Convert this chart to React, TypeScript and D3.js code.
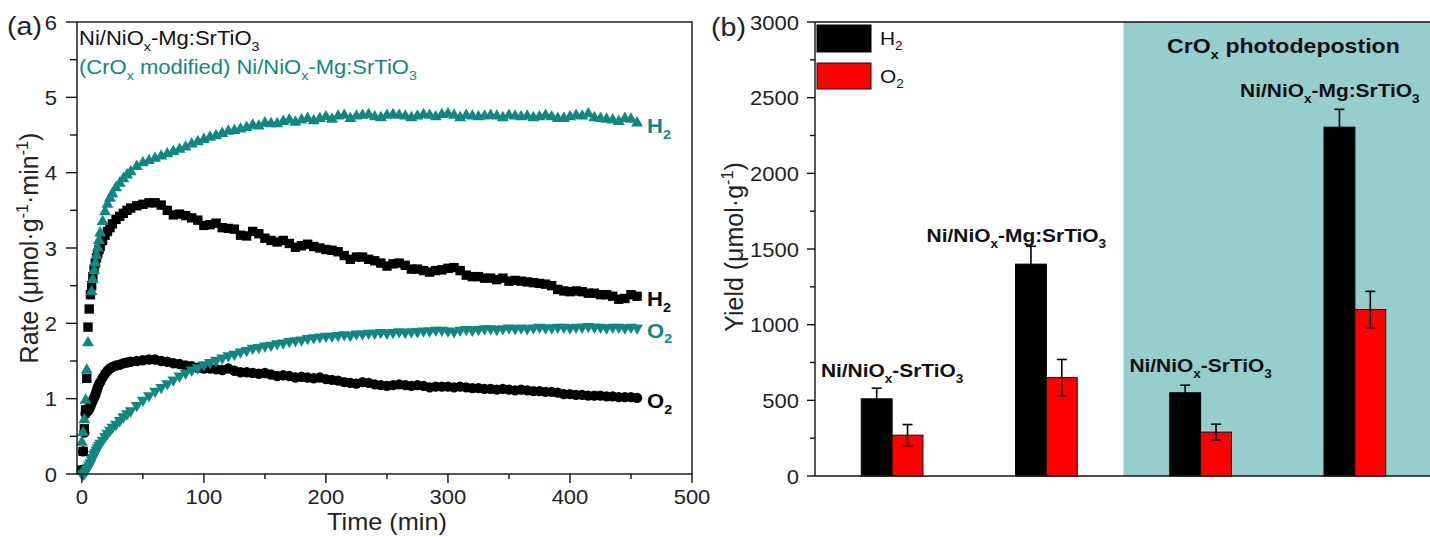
import React from "react";
import * as d3 from "d3";

// ---------- Panel (a): rate vs time ----------
const TIME = [
  0, 1, 2, 3, 4, 5, 6, 7, 8, 9, 10, 11, 12, 13, 14, 15, 17, 19, 21, 23, 25, 28, 31, 34, 37, 40,
  45, 50, 55, 60, 65, 70, 75, 80, 85, 90,
  95, 100, 105, 110, 115, 120, 125, 130, 135, 140,
  145, 150, 155, 160, 165, 170, 175, 180, 185, 190,
  195, 200, 205, 210, 215, 220, 225, 230, 235, 240,
  245, 250, 255, 260, 265, 270, 275, 280, 285, 290,
  295, 300, 305, 310, 315, 320, 325, 330, 335, 340,
  345, 350, 355, 360, 365, 370, 375, 380, 385, 390,
  395, 400, 405, 410, 415, 420, 425, 430, 435, 440,
  445, 450, 455,
];

const H2_BARE: (number | null)[] = [
  0.05, 0.3, 0.6, 0.85, 1.27, 1.95, 2.19, 2.38, 2.5, 2.62, 2.72, 2.8, 2.87, 2.93, 2.98, 3.02, 3.1, 3.17, 3.22, 3.27, 3.32, 3.38, 3.42, 3.46, 3.5, 3.53,
  3.56, 3.58, 3.6, 3.6, 3.57, 3.5, 3.44, 3.45, 3.43, 3.4,
  3.37, 3.3, 3.31, 3.33, 3.27, 3.26, 3.25, 3.17, 3.16, 3.22,
  3.19, 3.13, 3.1, 3.08, 3.1, 3.06, 3.01, 3.03, 3.05, 3.02,
  3.0, 2.98, 2.97, 2.95, 2.9, 2.85, 2.88, 2.88, 2.85, 2.83,
  2.8, 2.76, 2.79, 2.8, 2.77, 2.72, 2.72, 2.7, 2.68, 2.7,
  2.71, 2.73, 2.74, 2.7, 2.64, 2.62, 2.62, 2.6, 2.6, 2.58,
  2.6, 2.56, 2.57, 2.56, 2.55, 2.54, 2.53, 2.52, 2.5, 2.45,
  2.43, 2.42, 2.43, 2.42, 2.4, 2.4, 2.38, 2.38, 2.36, 2.32,
  2.33, 2.38, 2.36,
];

const O2_BARE: (number | null)[] = [
  0.05, 0.3, 0.55, 0.8, 0.86, 0.84, 0.86, 0.9, 0.94, 0.98, 1.01, 1.05, 1.1, 1.15, 1.19, 1.22, 1.28, 1.33, 1.37, 1.4, 1.42, 1.44, 1.45, 1.47, 1.48, 1.49,
  1.5, 1.51, 1.52, 1.52, 1.5, 1.49, 1.47, 1.46, 1.44, 1.43,
  1.41, 1.4, 1.4, 1.39, 1.38, 1.4, 1.37, 1.35, 1.35, 1.34,
  1.33, 1.34, 1.32, 1.3, 1.31, 1.3, 1.28, 1.29, 1.28, 1.27,
  1.28, 1.26, 1.25, 1.24, 1.22, 1.21, 1.2, 1.22, 1.21, 1.19,
  1.18, 1.17, 1.18, 1.19, 1.18, 1.17, 1.18, 1.17, 1.15, 1.16,
  1.16, 1.16, 1.15, 1.16, 1.15, 1.14, 1.14, 1.13, 1.13, 1.12,
  1.13, 1.12, 1.11, 1.12, 1.11, 1.1, 1.1, 1.09, 1.09, 1.08,
  1.06, 1.06, 1.05, 1.05, 1.04, 1.04, 1.04, 1.03, 1.03, 1.02,
  1.02, 1.02, 1.01,
];

const H2_CROX: (number | null)[] = [
  0.42, 0.55, 0.72, 0.98, 1.38, 1.74, null, null, 2.42, 2.58, 2.7, 2.8, 2.9, 3.0, 3.1, 3.2, 3.35, 3.48, 3.58, 3.66, 3.72, 3.8, 3.86, 3.92, 3.97, 4.01,
  4.08, 4.13, 4.16, 4.19, 4.22, 4.25, 4.28, 4.31, 4.34, 4.38,
  4.41, 4.44, 4.47, 4.49, 4.52, 4.55, 4.56, 4.58, 4.6, 4.63,
  4.62, 4.66, 4.65, 4.65, 4.68, 4.7, 4.67, 4.7, 4.72, 4.69,
  4.72, 4.74, 4.71, 4.75, 4.76, 4.72, 4.75, 4.76, 4.77, 4.74,
  4.73, 4.76, 4.77, 4.76, 4.75, 4.73, 4.75, 4.77, 4.76, 4.74,
  4.77, 4.78, 4.76, 4.73, 4.76, 4.75, 4.74, 4.75, 4.76, 4.75,
  4.73, 4.76, 4.75, 4.74, 4.75, 4.73, 4.74, 4.76, 4.74, 4.72,
  4.72, 4.74, 4.76, 4.75, 4.78, 4.73, 4.72, 4.71, 4.7, 4.68,
  4.72, 4.71, 4.66,
];

const O2_CROX: (number | null)[] = [
  0.0, 0.0, 0.01, 0.03, 0.06, 0.09, 0.12, 0.15, 0.19, 0.22, 0.26, 0.29, 0.32, 0.35, 0.38, 0.41, 0.45, 0.5, 0.54, 0.58, 0.62, 0.66, 0.71, 0.76, 0.8, 0.84,
  0.91, 0.98, 1.04, 1.1, 1.15, 1.2, 1.25, 1.3, 1.34, 1.38,
  1.41, 1.45, 1.48, 1.51, 1.54, 1.57, 1.59, 1.62, 1.64, 1.67,
  1.68, 1.7, 1.71, 1.73, 1.74, 1.76, 1.77, 1.78, 1.8, 1.81,
  1.82, 1.83, 1.83, 1.84, 1.85, 1.84, 1.86, 1.86, 1.87, 1.87,
  1.88, 1.87, 1.88, 1.89, 1.88, 1.89, 1.89, 1.9, 1.9, 1.91,
  1.91, 1.9, 1.89, 1.91, 1.92, 1.91, 1.92, 1.93, 1.93, 1.92,
  1.93, 1.94, 1.93, 1.94, 1.93, 1.94, 1.95, 1.94, 1.94, 1.95,
  1.95, 1.94, 1.95, 1.95, 1.96, 1.95, 1.95, 1.94, 1.95, 1.95,
  1.94, 1.95, 1.94,
];

const RATE_TICKS = [0, 1, 2, 3, 4, 5, 6];
const RATE_MINOR = [0.5, 1.5, 2.5, 3.5, 4.5, 5.5];
const TIME_TICKS = [0, 100, 200, 300, 400, 500];
const TIME_MINOR = [50, 150, 250, 350, 450];

// ---------- Panel (b): yields ----------
const SAMPLE_GROUPS = [1, 2, 3, 4];
const SAMPLE_MG = [false, true, false, true];
const H2_YIELD = [510, 1400, 550, 2305];
const H2_ERR = [70, 118, 50, 118];
const O2_YIELD = [270, 650, 290, 1100];
const O2_ERR = [70, 120, 52, 120];
const YIELD_TICKS = [0, 500, 1000, 1500, 2000, 2500, 3000];
const YIELD_MINOR = [250, 750, 1250, 1750, 2250, 2750];

// ---------- styling / layout ----------
const SX = 1.1;
const FONT = "'Liberation Sans', Arial, Helvetica, sans-serif";
const TEAL = "#0f8782";
const BAND = "#96cdcd";
const RED = "#ff0000";
const AX = "#111";

const LABEL_SHIFT = [0, -30, 0, -25];
const LABEL_GAP = [11, 4, 13, 12];

type Seg = [string, ("sub" | "sup")?];

function Rich(props: {
  x: number; y: number; segs: Seg[]; size: number; fill?: string; weight?: number;
  anchor?: "start" | "middle" | "end"; rot?: boolean; sx?: number;
}) {
  const { x, y, segs, size, fill = "#000", weight = 400, anchor = "start", rot = false, sx = SX } = props;
  const tr = `translate(${x},${y}) scale(${sx},1)` + (rot ? " rotate(-90)" : "");
  let cur = 0;
  const small = size * 0.65;
  return (
    <text transform={tr} fontSize={size} fontFamily={FONT} fontWeight={weight} fill={fill} textAnchor={anchor}>
      {segs.map(([t, k], i) => {
        const target = k === "sub" ? size * 0.28 : k === "sup" ? -size * 0.4 : 0;
        const dy = target - cur;
        cur = target;
        return (
          <tspan key={i} dy={dy} fontSize={k ? small : size}>
            {t}
          </tspan>
        );
      })}
    </text>
  );
}

const symSquare = d3.symbol(d3.symbolSquare, 88)()!;
const symCircle = d3.symbol(d3.symbolCircle, 85)()!;
const symTri = d3.symbol(d3.symbolTriangle, 62)()!;

export default function App() {
  // panel (a) scales
  const xA = d3.scaleLinear().domain([-4, 500]).range([77, 692]);
  const yA = d3.scaleLinear().domain([0, 6]).range([474, 22]);
  // panel (b) scales
  const xB = d3.scaleLinear().domain([0.5, 4.5]).range([815, 1432]);
  const yB = d3.scaleLinear().domain([0, 3000]).range([476, 22]);
  const barW = xB(1.2) - xB(1);

  const series = [
    { vals: H2_BARE, sym: symSquare, fill: "#000", rot: 0 },
    { vals: O2_BARE, sym: symCircle, fill: "#000", rot: 0 },
    { vals: H2_CROX, sym: symTri, fill: TEAL, rot: 0 },
    { vals: O2_CROX, sym: symTri, fill: TEAL, rot: 180 },
  ];

  const lastT = TIME[TIME.length - 1];
  const last = (a: (number | null)[]) => a[a.length - 1] as number;
  const endX = xA(lastT) + 10;

  const bareLabel: Seg[] = [["Ni/NiO"], ["x", "sub"], ["-SrTiO"], ["3", "sub"]];
  const mgLabel: Seg[] = [["Ni/NiO"], ["x", "sub"], ["-Mg:SrTiO"], ["3", "sub"]];

  return (
    <svg
      width={1430}
      height={537}
      style={{ position: "absolute", left: 0, top: 0, background: "#fff" }}
    >
      <rect x={0} y={0} width={1430} height={537} fill="#fff" />

      {/* ================= Panel (a) ================= */}
      <g>
        {series.map((s, si) => (
          <g key={si} fill={s.fill}>
            {TIME.map((t, i) =>
              s.vals[i] == null ? null : (
                <path
                  key={i}
                  d={s.sym}
                  transform={`translate(${xA(t)},${yA(s.vals[i] as number)}) rotate(${s.rot})`}
                />
              )
            )}
          </g>
        ))}

        {/* frame */}
        <rect x={xA(-4)} y={yA(6)} width={xA(500) - xA(-4)} height={yA(0) - yA(6)} fill="none" stroke={AX} strokeWidth={1.4} />

        {/* y ticks */}
        {RATE_TICKS.map((v) => (
          <g key={v}>
            <line x1={xA(-4) - 11} x2={xA(-4)} y1={yA(v)} y2={yA(v)} stroke={AX} strokeWidth={1.4} />
            <Rich x={57} y={yA(v) + 7.5} segs={[[String(v)]]} size={20} anchor="end" fill="#222" />
          </g>
        ))}
        {RATE_MINOR.map((v) => (
          <line key={v} x1={xA(-4) - 7} x2={xA(-4)} y1={yA(v)} y2={yA(v)} stroke={AX} strokeWidth={1.4} />
        ))}
        {/* x ticks */}
        {TIME_TICKS.map((t) => (
          <g key={t}>
            <line x1={xA(t)} x2={xA(t)} y1={yA(0)} y2={yA(0) + 9} stroke={AX} strokeWidth={1.4} />
            <Rich x={xA(t)} y={504} segs={[[String(t)]]} size={20} anchor="middle" fill="#222" />
          </g>
        ))}
        {TIME_MINOR.map((t) => (
          <line key={t} x1={xA(t)} x2={xA(t)} y1={yA(0)} y2={yA(0) + 5} stroke={AX} strokeWidth={1.4} />
        ))}

        {/* axis titles */}
        <Rich x={(xA(0) + xA(500)) / 2} y={530} segs={[["Time (min)"]]} size={23} anchor="middle" fill="#222" />
        <Rich
          x={38}
          y={248}
          rot
          sx={1}
          size={25}
          anchor="middle"
          fill="#222"
          segs={[["Rate (μmol·g"], ["-1", "sup"], ["·min"], ["-1", "sup"], [")"]]}
        />

        {/* panel tag */}
        <Rich x={7} y={35} segs={[["(a)"]]} size={26} fill="#222" />

        {/* annotations */}
        <Rich x={79} y={45} segs={mgLabel} size={20} fill="#111" />
        <Rich
          x={79}
          y={74}
          segs={[["(CrO"], ["x", "sub"], [" modified) Ni/NiO"], ["x", "sub"], ["-Mg:SrTiO"], ["3", "sub"]]}
          size={20}
          fill={TEAL}
        />

        {/* end labels */}
        <Rich x={endX} y={yA(last(H2_CROX)) + 10} segs={[["H"], ["2", "sub"]]} size={20} weight={700} fill={TEAL} />
        <Rich x={endX} y={yA(last(H2_BARE)) + 10} segs={[["H"], ["2", "sub"]]} size={20} weight={700} fill="#000" />
        <Rich x={endX} y={yA(last(O2_CROX)) + 10} segs={[["O"], ["2", "sub"]]} size={20} weight={700} fill={TEAL} />
        <Rich x={endX} y={yA(last(O2_BARE)) + 10} segs={[["O"], ["2", "sub"]]} size={20} weight={700} fill="#000" />
      </g>

      {/* ================= Panel (b) ================= */}
      <g>
        <rect x={xB(2.5)} y={yB(3000)} width={1430 - xB(2.5)} height={yB(0) - yB(3000)} fill={BAND} />

        {SAMPLE_GROUPS.map((g, i) => {
          const h2Top = yB(H2_YIELD[i]);
          const o2Top = yB(O2_YIELD[i]);
          const cx = xB(g);
          return (
            <g key={g}>
              <rect x={cx - barW} y={h2Top} width={barW} height={yB(0) - h2Top} fill="#000" stroke="#000" strokeWidth={1} />
              <rect x={cx} y={o2Top} width={barW} height={yB(0) - o2Top} fill={RED} stroke="#111" strokeWidth={1} />
              {/* error bars */}
              {[
                { c: cx - barW / 2, v: H2_YIELD[i], e: H2_ERR[i] },
                { c: cx + barW / 2, v: O2_YIELD[i], e: O2_ERR[i] },
              ].map((eb, k) => (
                <g key={k} stroke="#000" strokeWidth={1.6}>
                  <line x1={eb.c} x2={eb.c} y1={yB(eb.v + eb.e)} y2={yB(eb.v - eb.e)} />
                  <line x1={eb.c - 5} x2={eb.c + 5} y1={yB(eb.v + eb.e)} y2={yB(eb.v + eb.e)} />
                  <line x1={eb.c - 5} x2={eb.c + 5} y1={yB(eb.v - eb.e)} y2={yB(eb.v - eb.e)} />
                </g>
              ))}
              <Rich
                x={cx + LABEL_SHIFT[i]}
                y={yB(H2_YIELD[i] + H2_ERR[i]) - LABEL_GAP[i]}
                segs={SAMPLE_MG[i] ? mgLabel : bareLabel}
                size={19}
                weight={700}
                anchor="middle"
                fill="#111"
              />
            </g>
          );
        })}

        {/* axes */}
        <line x1={xB(0.5)} x2={xB(0.5)} y1={yB(3000)} y2={yB(0)} stroke={AX} strokeWidth={1.4} />
        <line x1={xB(0.5)} x2={1430} y1={yB(0)} y2={yB(0)} stroke={AX} strokeWidth={1.4} />
        <line x1={xB(0.5)} x2={1430} y1={yB(3000)} y2={yB(3000)} stroke={AX} strokeWidth={1.4} />
        {YIELD_TICKS.map((v) => (
          <g key={v}>
            <line x1={xB(0.5) - 8} x2={xB(0.5)} y1={yB(v)} y2={yB(v)} stroke={AX} strokeWidth={1.4} />
            <Rich x={799} y={yB(v) + 7.5} segs={[[String(v)]]} size={20} anchor="end" fill="#222" />
          </g>
        ))}
        {YIELD_MINOR.map((v) => (
          <line key={v} x1={xB(0.5) - 5} x2={xB(0.5)} y1={yB(v)} y2={yB(v)} stroke={AX} strokeWidth={1.4} />
        ))}

        <Rich
          x={743}
          y={247}
          rot
          sx={1}
          size={25}
          anchor="middle"
          fill="#222"
          segs={[["Yield (μmol·g"], ["-1", "sup"], [")"]]}
        />
        <Rich x={711} y={36} segs={[["(b)"]]} size={26} fill="#222" />

        {/* legend */}
        <rect x={817} y={25} width={54} height={27} fill="#000" stroke="#000" />
        <rect x={817} y={63} width={54} height={26} fill={RED} stroke="#111" />
        <Rich x={880} y={45} segs={[["H"], ["2", "sub"]]} size={19} fill="#111" />
        <Rich x={880} y={83} segs={[["O"], ["2", "sub"]]} size={19} fill="#111" />

        <Rich x={1167} y={53} segs={[["CrO"], ["x", "sub"], [" photodepostion"]]} size={21} weight={700} fill="#111" />
      </g>
    </svg>
  );
}
